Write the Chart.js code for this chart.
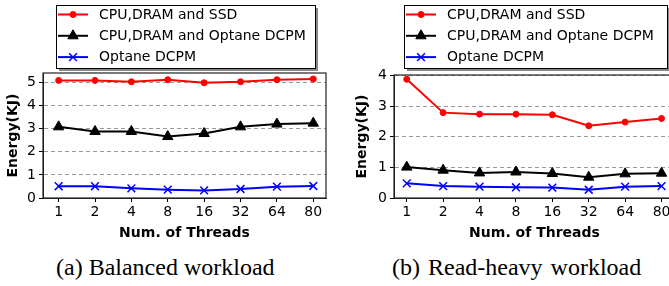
<!DOCTYPE html>
<html>
<head>
<meta charset="utf-8">
<script src="https://cdn.jsdelivr.net/npm/chart.js@4/dist/chart.umd.min.js"></script>
<style>
  html, body { margin:0; padding:0; background:#fff; width:669px; height:286px; overflow:hidden; }
  .wrap { position:absolute; top:0; width:335px; height:245px; }
  .cap { position:absolute; top:253px; font-family:"Liberation Serif","Times New Roman",serif; font-size:24px; line-height:28px; color:#000; white-space:nowrap; }
</style>
</head>
<body>
<div class="wrap" style="left:0px"><canvas id="c1" width="335" height="245"></canvas></div>
<div class="wrap" style="left:349px"><canvas id="c2" width="335" height="245"></canvas></div>
<div class="cap" style="left:56px">(a) Balanced workload</div>
<div class="cap" style="left:392px;word-spacing:2px">(b) Read-heavy workload</div>
<script>
// ---- data ----
const threads = ['1','2','4','8','16','32','64','80'];
const seriesNames = ['CPU,DRAM and SSD', 'CPU,DRAM and Optane DCPM', 'Optane DCPM'];
const balancedSSD    = [5.09, 5.09, 5.03, 5.12, 4.99, 5.03, 5.12, 5.15];
const balancedDCPMSys= [3.08, 2.88, 2.88, 2.66, 2.79, 3.08, 3.20, 3.24];
const balancedDCPM   = [0.51, 0.51, 0.42, 0.36, 0.33, 0.39, 0.49, 0.52];
const readSSD        = [3.88, 2.79, 2.74, 2.74, 2.72, 2.36, 2.48, 2.60];
const readDCPMSys    = [1.01, 0.91, 0.82, 0.85, 0.80, 0.68, 0.79, 0.81];
const readDCPM       = [0.48, 0.39, 0.37, 0.35, 0.34, 0.27, 0.37, 0.39];
const yTicksA = [0,1,2,3,4,5];
const yTicksB = [0,1,2,3,4];

Chart.defaults.font.family = 'DejaVu Sans';
Chart.defaults.color = '#000';

const styles = [
  {color:'#ff0000', pointStyle:'circle', radius:3},
  {color:'#000000', pointStyle:'triangle', radius:6},
  {color:'#0000ff', pointStyle:'crossRot', radius:5.5}
];

function makeDatasets(arrs){
  return arrs.map((arr,i)=>({
    label: seriesNames[i],
    data: arr.map((v,j)=>({x:j, y:v})),
    borderColor: styles[i].color,
    backgroundColor: styles[i].color,
    pointBackgroundColor: styles[i].color,
    pointBorderColor: styles[i].color,
    pointStyle: styles[i].pointStyle,
    pointRadius: styles[i].radius,
    pointBorderWidth: i===2 ? 1.5 : 1,
    borderWidth: 2,
    tension: 0,
    clip: false
  }));
}

const framePlugin = {
  id:'frame',
  afterDraw(chart){
    const {ctx, chartArea:a} = chart;
    ctx.save();
    ctx.setLineDash([]);
    ctx.strokeStyle = '#222';
    ctx.lineWidth = 1.2;
    ctx.strokeRect(a.left, a.top, a.right-a.left, a.bottom-a.top);
    ctx.restore();
  }
};

const boxLegend = {
  id:'boxLegend',
  afterDraw(chart, args, opts){
    const ctx = chart.ctx;
    const {x, y, w, h} = opts;
    ctx.save();
    ctx.setLineDash([]);
    ctx.fillStyle = '#888';
    ctx.fillRect(x+3, y+3, w, h);
    ctx.fillStyle = '#fff';
    ctx.fillRect(x, y, w, h);
    ctx.strokeStyle = '#000';
    ctx.lineWidth = 1;
    ctx.strokeRect(x+0.5, y+0.5, w, h);
    chart.data.datasets.forEach((ds, i) => {
      const ry = y + 9.5 + i*21.3;
      const lx0 = x + 2, lx1 = x + 32;
      ctx.strokeStyle = ds.borderColor;
      ctx.lineWidth = 2;
      ctx.beginPath(); ctx.moveTo(lx0, ry); ctx.lineTo(lx1, ry); ctx.stroke();
      ctx.fillStyle = ds.pointBackgroundColor;
      ctx.strokeStyle = ds.pointBorderColor;
      ctx.lineWidth = ds.pointBorderWidth;
      Chart.helpers.drawPoint(ctx, {
        pointStyle: ds.pointStyle, radius: ds.pointRadius, rotation: 0,
        borderWidth: ds.pointBorderWidth
      }, (lx0+lx1)/2, ry);
      ctx.fillStyle = '#000';
      ctx.font = '14px "DejaVu Sans"';
      ctx.textBaseline = 'middle';
      ctx.textAlign = 'left';
      ctx.fillText(ds.label, x + 43, ry + 0.5);
    });
    ctx.restore();
  }
};

function makeChart(id, arrs, yMax, yTicks, xMin, xMax, yWidth, padTop, legendBox){
  return new Chart(document.getElementById(id), {
    type:'line',
    data:{ datasets: makeDatasets(arrs) },
    options:{
      responsive:false,
      animation:false,
      devicePixelRatio:1,
      layout:{ padding:{ top:padTop, right:9, left:0, bottom:0 } },
      plugins:{
        legend:{ display:false },
        tooltip:{ enabled:false },
        boxLegend: legendBox
      },
      scales:{
        x:{
          type:'linear', min:xMin, max:xMax,
          afterBuildTicks(s){ s.ticks = threads.map((t,i)=>({value:i})); },
          afterFit(s){ s.height = 47; },
          ticks:{ callback:(v)=>threads[v], font:{size:14}, color:'#000', padding:2, autoSkip:false, maxRotation:0 },
          grid:{ drawOnChartArea:false, drawTicks:true, tickLength:4, tickColor:'#000', tickWidth:1 },
          border:{ display:true, color:'#222', width:1 },
          title:{ display:true, text:'Num. of Threads', font:{size:14, weight:'bold'}, color:'#000', padding:{top:0,bottom:3} }
        },
        y:{
          min:0, max:yMax,
          afterBuildTicks(s){ s.ticks = yTicks.map(v=>({value:v})); },
          afterFit(s){ s.width = yWidth; },
          ticks:{ font:{size:14}, color:'#000', padding:3 },
          grid:{ color:'#999999', lineWidth:1, tickLength:4, tickColor:'#000', tickBorderDash:[], tickWidth:1 },
          border:{ display:true, color:'#222', width:1, dash:[4,3] },
          title:{ display:true, text:'Energy(KJ)', font:{size:14, weight:'bold'}, color:'#000', padding:{top:5,bottom:0} }
        }
      }
    },
    plugins:[framePlugin, boxLegend]
  });
}

makeChart('c1', [balancedSSD, balancedDCPMSys, balancedDCPM], 5.41, yTicksA, -0.43, 7.35, 43, 73,
  {x:56, y:5, w:259, h:63});
makeChart('c2', [readSSD, readDCPMSys, readDCPM], 4.02, yTicksB, -0.35, 7.37, 45, 75,
  {x:55, y:5, w:263, h:63});
</script>
</body>
</html>
